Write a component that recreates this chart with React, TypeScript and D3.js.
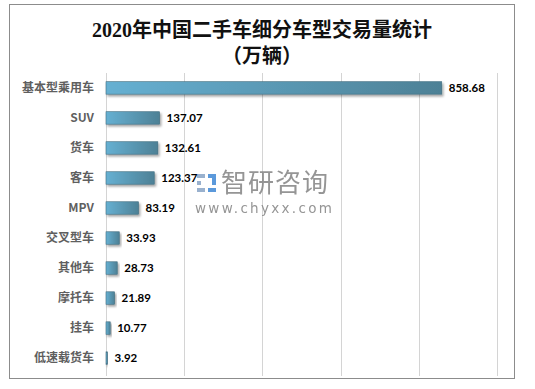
import React from 'react'
import * as d3 from 'd3'

const categories = ['基本型乘用车', 'SUV', '货车', '客车', 'MPV', '交叉型车', '其他车', '摩托车', '挂车', '低速载货车']
const volumes = [858.68, 137.07, 132.61, 123.37, 83.19, 33.93, 28.73, 21.89, 10.77, 3.92]
const xTicks = [0, 200, 400, 600, 800, 1000]

const W = 535
const H = 389

export default function App() {
  const x = d3.scaleLinear().domain([0, 1000]).range([106, 497])
  const y = d3.scaleBand<string>().domain(categories).range([73, 373]).paddingInner(0.585).paddingOuter(0.29)
  const rows = categories.map((c, i) => ({ c, v: volumes[i] }))

  return (
    <div style={{ position: 'fixed', left: 0, top: 0 }}>
      <svg width={W} height={H} style={{ display: 'block', background: '#fff' }}>
        <defs>
          <linearGradient id="barGrad" x1="0" y1="0" x2="1" y2="0">
            <stop offset="0%" stopColor="#66b0d2" />
            <stop offset="100%" stopColor="#4e8196" />
          </linearGradient>
          <filter id="shadow" x="-10%" y="-30%" width="130%" height="190%">
            <feDropShadow dx="1.5" dy="2" stdDeviation="1.2" floodColor="#000" floodOpacity="0.35" />
          </filter>
        </defs>
        <rect x={9.5} y={4.5} width={505} height={374} fill="#fff" stroke="#8c8c8c" strokeWidth={1} />

        <text x={262} y={37} textAnchor="middle" fontFamily="'Liberation Serif', 'Noto Sans CJK SC', serif" fontWeight="bold" fontSize={20} fill="#111">
          2020年中国二手车细分车型交易量统计
        </text>
        <text x={262} y={63} textAnchor="middle" fontFamily="'Liberation Serif', 'Noto Sans CJK SC', serif" fontWeight="bold" fontSize={20} fill="#111">
          （万辆）
        </text>

        <g>
          {xTicks.map((t) => (
            <line key={t} x1={Math.round(x(t)) + 0.5} x2={Math.round(x(t)) + 0.5} y1={73} y2={376} stroke="#d4d4d4" strokeWidth={1} />
          ))}
        </g>

        {/* watermark */}
        <g opacity={0.9}>
          <rect x={197} y={174} width={8} height={4} fill="#8fa9c9" />
          <rect x={197} y={181} width={4} height={4} fill="#8fa9c9" />
          <rect x={197} y={188} width={8} height={4} fill="#8fa9c9" />
          <rect x={208} y={174} width={8} height={4} fill="#4a8fd8" />
          <rect x={212} y={178} width={4} height={7} fill="#4a8fd8" />
          <rect x={208} y={188} width={8} height={4} fill="#4a8fd8" />
          <text x={221} y={192} fontFamily="'Noto Sans CJK SC', sans-serif" fontSize={26} fill="#8a8a8a" letterSpacing={1}>智研咨询</text>
          <text x={195} y={213} fontFamily="'DejaVu Sans', sans-serif" fontSize={13.5} fill="#8a8a8a" letterSpacing={2.3}>www.chyxx.com</text>
        </g>

        <g>
          {rows.map((r) => (
            <rect
              key={r.c}
              x={x(0)}
              y={y(r.c)}
              width={Math.max(1, x(r.v) - x(0))}
              height={y.bandwidth()}
              fill="url(#barGrad)"
              stroke="#3f6b7e"
              strokeWidth={0.6}
              filter="url(#shadow)"
            />
          ))}
        </g>

        <g>
          {rows.map((r) => (
            <text
              key={r.c}
              x={94}
              y={(y(r.c) ?? 0) + y.bandwidth() / 2}
              dy="0.35em"
              textAnchor="end"
              fontFamily="'Noto Sans CJK SC', 'Liberation Sans', sans-serif"
              fontWeight="bold"
              fontSize={12}
              fill="#5f5f5f"
            >
              {r.c}
            </text>
          ))}
        </g>

        <g>
          {rows.map((r) => (
            <text
              key={r.c}
              x={x(r.v) + 7}
              y={(y(r.c) ?? 0) + y.bandwidth() / 2}
              dy="0.36em"
              fontFamily="Lato, 'Liberation Sans', sans-serif"
              fontWeight="bold"
              fontSize={11.5}
              fill="#000"
            >
              {d3.format('.2f')(r.v)}
            </text>
          ))}
        </g>
      </svg>
    </div>
  )
}
